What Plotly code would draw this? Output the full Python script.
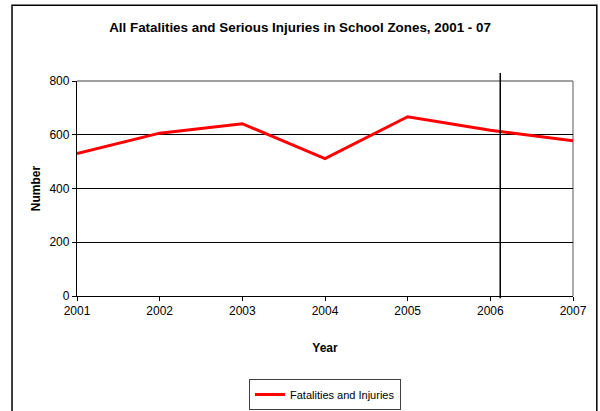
import plotly.graph_objects as go

years = [2001, 2002, 2003, 2004, 2005, 2006, 2007]
values = [530, 606, 641, 511, 667, 617, 578]
series_name = "Fatalities and Injuries"
y_ticks = [0, 200, 400, 600, 800]
marker_x = [2006.12]

FONT = "Liberation Sans Narrow, Arial Narrow, Liberation Sans, Arial, sans-serif"

fig = go.Figure()
fig.add_trace(go.Scatter(x=years, y=values, mode="lines", name=series_name,
                         line=dict(color="#ff0000", width=3)))

BX0, BX1, BY0, BY1 = -0.131, 1.048, -0.6, 1.352
border = dict(color="black", width=1.5)
shapes = [
    # outer chart border
    dict(type="path", xref="paper", yref="paper",
         path=f"M {BX0},{BY0} L {BX0},{BY1} L {BX1},{BY1} L {BX1},{BY0}",
         line=border, layer="below"),
    # top & right plot border (grey)
    dict(type="line", xref="paper", yref="paper", x0=0, x1=1, y0=1, y1=1,
         line=dict(color="#808080", width=1.3), layer="below"),
    dict(type="line", xref="paper", yref="paper", x0=1, x1=1, y0=0, y1=1,
         line=dict(color="#808080", width=1.3), layer="below"),
]
for mx in marker_x:
    shapes.append(dict(type="line", xref="x", yref="paper", x0=mx, x1=mx, y0=-0.01, y1=1.037,
                       line=dict(color="black", width=1.5)))

fig.update_layout(
    width=600, height=411,
    margin=dict(l=77, r=27, t=81, b=115, autoexpand=False),
    paper_bgcolor="white", plot_bgcolor="white",
    font=dict(family=FONT, size=12, color="black"),
    title=dict(text="<b>All Fatalities and Serious Injuries in School Zones, 2001 - 07</b>",
               x=0.5, xanchor="center", y=1 - 27 / 411, yanchor="middle",
               font=dict(family=FONT, size=13.4, color="black")),
    xaxis=dict(range=[2001, 2007], tickvals=years, ticktext=[str(y) for y in years],
               showgrid=False, zeroline=False, showline=True, linecolor="black", linewidth=1.3,
               ticks="outside", ticklen=4, tickcolor="black", ticklabelstandoff=-1,
               automargin=False,
               title=dict(text="<b>Year</b>", standoff=27, font=dict(family=FONT, size=12))),
    yaxis=dict(range=[0, 800], tickvals=y_ticks, showgrid=True, gridcolor="black", gridwidth=1,
               zeroline=False, showline=True, linecolor="black", linewidth=1.3,
               ticks="outside", ticklen=4, tickcolor="black", automargin=False,
               title=dict(text="<b>Number</b>", standoff=6, font=dict(family=FONT, size=12))),
    showlegend=True,
    legend=dict(orientation="h", x=0.5, xanchor="center", yref="container",
                y=(411 - 379) / 411, yanchor="top",
                bordercolor="#404040", borderwidth=1, bgcolor="white", itemwidth=30,
                font=dict(family=FONT, size=11)),
    shapes=shapes,
)

fig.write_html("out.html", config={"displayModeBar": False},
               post_script="document.body.style.margin='0';")
